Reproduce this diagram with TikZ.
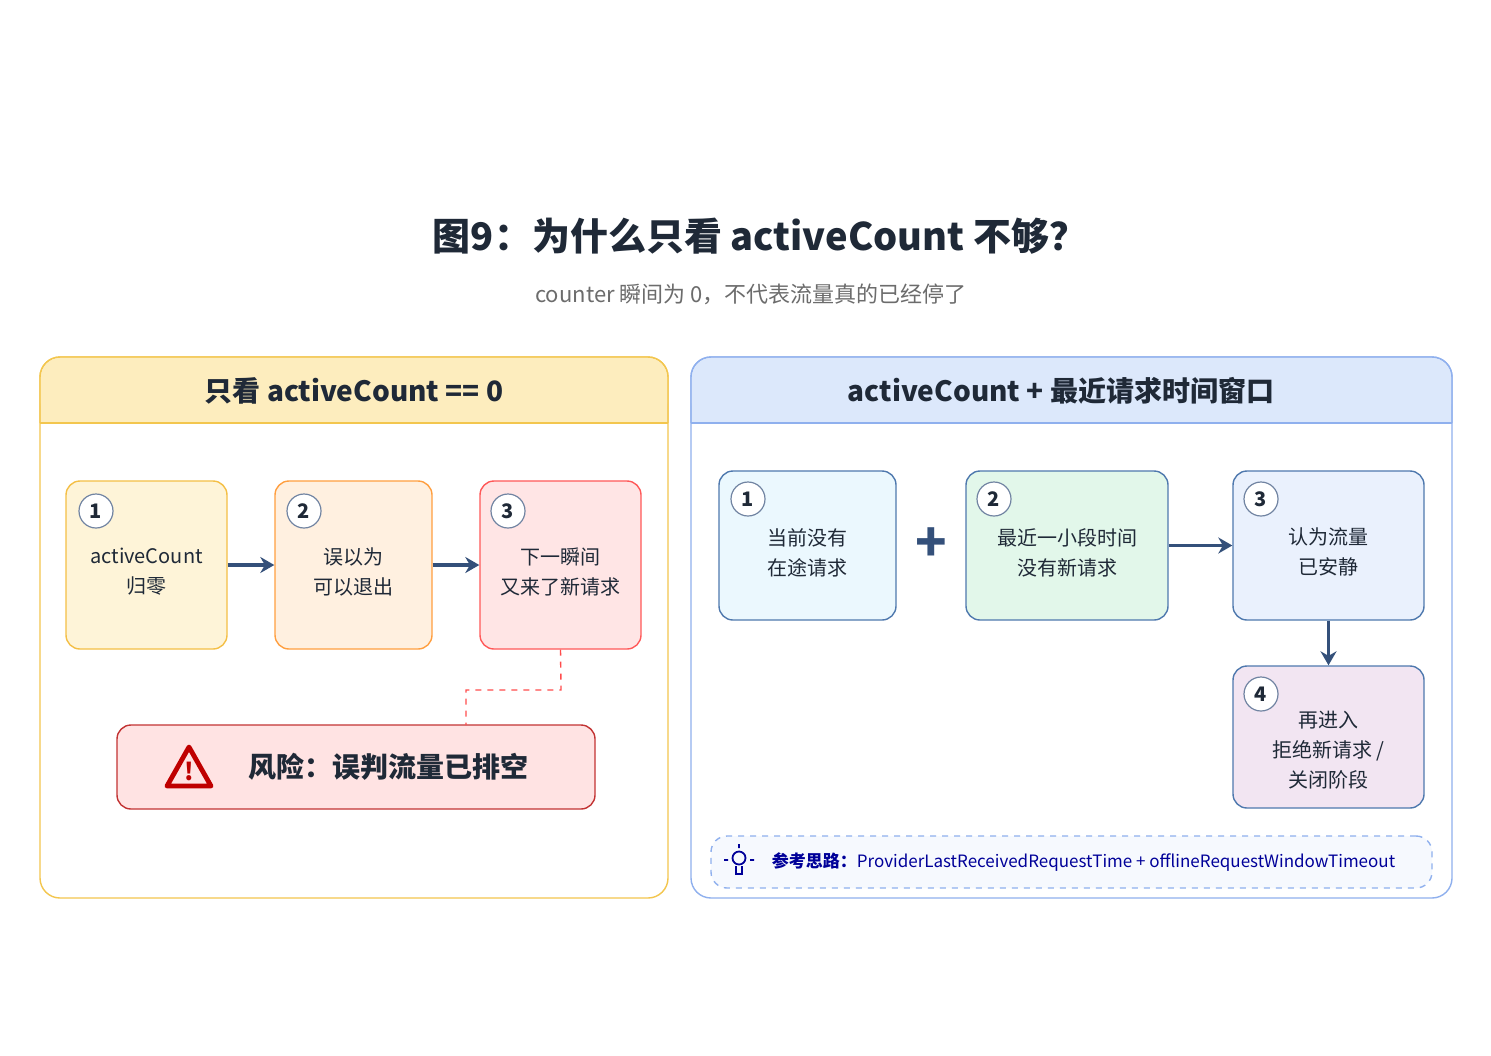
\documentclass[tikz,border=0pt]{standalone}
\usepackage{fontspec}
\setmainfont{Noto Sans CJK SC}
\usetikzlibrary{arrows.meta}
\definecolor{arr}{HTML}{34507A}
\definecolor{ink}{HTML}{1F2937}
\definecolor{ybd}{HTML}{F3C64E}
\definecolor{yhd}{HTML}{FDEDBE}
\definecolor{bbd}{HTML}{8FB0EE}
\definecolor{bhd}{HTML}{DCE8FB}
\definecolor{rbd}{HTML}{4F79AE}
\definecolor{gfill}{HTML}{E2F7EA}
\tikzset{
 box/.style={draw, rounded corners=7pt, line width=0.7pt},
 txt/.style={align=center, font=\fontsize{10}{15}\selectfont, text=ink},
 num/.style={circle, draw=arr!70, fill=white, line width=0.6pt, minimum size=17pt, inner sep=0pt, font=\fontsize{10}{10}\selectfont\bfseries, text=ink},
 flow/.style={draw=arr, line width=1.6pt, -{Stealth[length=7pt,width=8pt]}},
}
\begin{document}
\begin{tikzpicture}[x=0.5pt,y=-0.5pt]
\useasboundingbox (0,0) rectangle (1491,1055);
\fill[white] (0,0) rectangle (1491,1055);
\node[font=\fontsize{19}{19}\selectfont\bfseries, text=ink] (title) at (760,236) {图9：为什么只看 activeCount 不够？};
\node[font=\fontsize{11}{11}\selectfont, text=gray!85!black] (sub) at (751,294) {counter 瞬间为 0，不代表流量真的已经停了};
% left panel
\draw[draw=ybd, fill=white, rounded corners=10pt, line width=0.7pt] (40,357) rectangle (668,898);
\fill[yhd, rounded corners=10pt] (40.7,357.7) -- (667.3,357.7) -- (667.3,423) -- (40.7,423) -- cycle;
\fill[yhd] (40.7,400) rectangle (667.3,423);
\draw[draw=ybd, line width=0.7pt] (40,423) -- (668,423);
\draw[draw=ybd, rounded corners=10pt, line width=0.7pt] (40,423) -- (40,357) -- (668,357) -- (668,423);
\node[font=\fontsize{14}{14}\selectfont\bfseries, text=ink] (lh) at (354,391) {只看 activeCount == 0};
% right panel
\draw[draw=bbd, fill=white, rounded corners=10pt, line width=0.7pt] (691,357) rectangle (1452,898);
\fill[bhd, rounded corners=10pt] (691.7,357.7) -- (1451.3,357.7) -- (1451.3,423) -- (691.7,423) -- cycle;
\fill[bhd] (691.7,400) rectangle (1451.3,423);
\draw[draw=bbd, line width=0.7pt] (691,423) -- (1452,423);
\draw[draw=bbd, rounded corners=10pt, line width=0.7pt] (691,423) -- (691,357) -- (1452,357) -- (1452,423);
\node[font=\fontsize{14}{14}\selectfont\bfseries, text=ink] (rh) at (1061,391) {activeCount + 最近请求时间窗口};
% left boxes
\node[box, draw=ybd!90!orange, fill=yhd!60, minimum width=80.5pt, minimum height=84pt] (b1) at (146.5,565) {};
\node[box, draw=orange!75, fill=orange!12, minimum width=78.5pt, minimum height=84pt] (b2) at (353.5,565) {};
\node[box, draw=red!65, fill=red!10, minimum width=80.5pt, minimum height=84pt] (b3) at (560.5,565) {};
\node[txt] (b1t) at (146.5,572) {activeCount\\归零};
\node[txt] (b2t) at (353.5,572) {误以为\\可以退出};
\node[txt] (b3t) at (560.5,572) {下一瞬间\\又来了新请求};
\node[num] (n1) at (96,511) {1};
\node[num] (n2) at (304,511) {2};
\node[num] (n3) at (508,511) {3};
\draw[flow] (b1) -- (b2);
\draw[flow] (b2) -- (b3);
\node[box, draw=red!70!black!80, fill=red!11, minimum width=239pt, minimum height=42pt, font=\fontsize{14}{14}\selectfont\bfseries, text=ink] (risk) at (356,767) {\hspace{32pt}风险：误判流量已排空};
\draw[red!75!black, line width=2.4pt, line join=round] (189,747) -- (211,786) -- (167,786) -- cycle;
\node[text=red!75!black, font=\fontsize{12}{12}\selectfont\bfseries] (ex) at (189,771) {!};
\draw[red!70, dashed, line width=0.7pt] (b3.south) -- (561,690) -- (466,690) -- (466,725);
% right boxes
\node[box, draw=rbd, fill=cyan!8, minimum width=88.5pt, minimum height=74.5pt] (r1) at (807.5,545.5) {};
\node[box, draw=rbd, fill=gfill, minimum width=101pt, minimum height=74.5pt] (r2) at (1067,545.5) {};
\node[box, draw=rbd, fill=bhd!60, minimum width=95.5pt, minimum height=74.5pt] (r3) at (1328.5,545.5) {};
\node[box, draw=rbd, fill=violet!10, minimum width=95.5pt, minimum height=71pt] (r4) at (1328.5,737) {};
\node[txt] (r1t) at (807.5,553) {当前没有\\在途请求};
\node[txt] (r2t) at (1067,553) {最近一小段时间\\没有新请求};
\node[txt] (r3t) at (1328.5,552) {认为流量\\已安静};
\node[txt] (r4t) at (1328.5,750) {再进入\\拒绝新请求 /\\关闭阶段};
\node[num] (m1) at (748,499) {1};
\node[num] (m2) at (994,499) {2};
\node[num] (m3) at (1261,499) {3};
\node[num] (m4) at (1261,694) {4};
\node[text=arr, font=\fontsize{26}{26}\selectfont\bfseries] (plus) at (931,545) {+};
\draw[flow] (r2) -- (r3);
\draw[flow] (r3) -- (r4);
% hint
\node[draw=bbd, dashed, rounded corners=8pt, line width=0.7pt, fill=bhd!25, minimum width=360.5pt, minimum height=26pt, text=blue!60!black, font=\fontsize{8.5}{8.5}\selectfont] (hint) at (1071.5,862) {\hspace{12pt}\textbf{参考思路：}ProviderLastReceivedRequestTime + offlineRequestWindowTimeout};
\draw[blue!60!black, line width=0.9pt] (739,858) circle (6.5) (736,866) -- (736,874) -- (742,874) -- (742,866) (739,844) -- (739,848) (724,860) -- (728,860) (750,860) -- (754,860);
\end{tikzpicture}
\end{document}
